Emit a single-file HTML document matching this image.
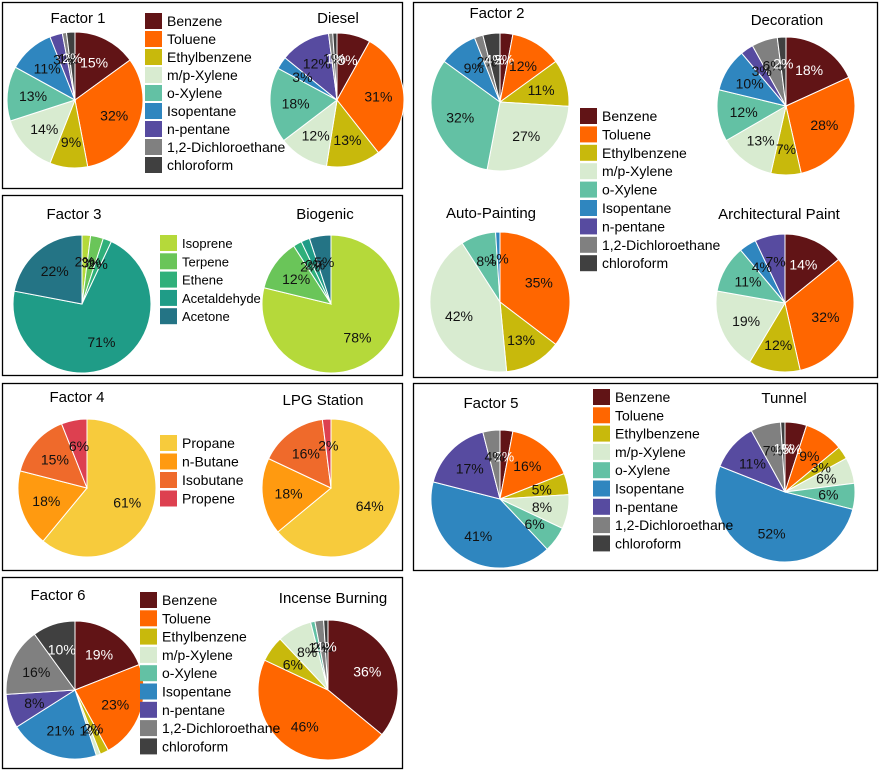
<!DOCTYPE html>
<html><head><meta charset="utf-8"><style>
body{margin:0;background:#fff;width:879px;height:770px;overflow:hidden}
svg{display:block;font-family:"Liberation Sans",Arial,sans-serif}
</style></head><body>
<svg id="c" width="879" height="770"></svg>
<script>
const vocCategories=["Benzene","Toluene","Ethylbenzene","m/p-Xylene","o-Xylene","Isopentane","n-pentane","1,2-Dichloroethane","chloroform"];
const bioCategories=["Isoprene","Terpene","Ethene","Acetaldehyde","Acetone"];
const lpgCategories=["Propane","n-Butane","Isobutane","Propene"];
const factor1Values=[15,32,9,14,13,11,3,1,2];
const dieselValues=[8,31,13,12,18,3,12,1,1];
const factor2Values=[3,12,11,27,32,9,0,2,4];
const decorationValues=[18,28,7,13,12,10,3,6,2];
const autoPaintingValues=[0,35,13,42,8,1,0,0,0];
const archPaintValues=[14,32,12,19,11,4,7,0,0];
const factor3Values=[2,3,2,71,22];
const biogenicValues=[78,12,2,2,5];
const factor4Values=[61,18,15,6];
const lpgValues=[64,18,16,2];
const factor5Values=[3,16,5,8,6,41,17,4,0];
const tunnelValues=[5,9,3,6,6,52,11,7,1];
const factor6Values=[19,23,2,1,0,21,8,16,10];
const incenseValues=[36,46,6,8,1,0,0,2,1];

const vocColors=["#611416","#ff6600","#c8b90c","#d8ebd0","#63c1a4","#2f86bf","#574ba0","#808080","#404040"];
const bioColors=["#b5d93a","#6ac559","#2fb07a","#1f9c87","#247485"];
const lpgColors=["#f7cb3c","#ff9a10","#ef6a2b","#dd4050"];
const darkText=["#611416","#404040"];
const NS="http://www.w3.org/2000/svg";
const svg=document.getElementById("c");
function el(tag,attrs,parent){const e=document.createElementNS(NS,tag);for(const k in attrs)e.setAttribute(k,attrs[k]);(parent||svg).appendChild(e);return e;}
function slug(s){return s.toLowerCase().replace(/[^a-z0-9]+/g,"-").replace(/^-|-$/g,"");}

function panel(x,y,w,h,name){
  const r=el("rect",{x:x+0.5,y:y+0.5,width:w,height:h,fill:"none",stroke:"#000","stroke-width":1.3});
  
  
}
function title(x,y,t){
  const e=el("text",{x:x,y:y,"text-anchor":"middle","font-size":15,fill:"#000"});e.textContent=t;
  
  
}
function pie(cx,cy,r,values,colors,cats,name){
  const g=el("g",{});
  
  
  const tot=values.reduce((a,b)=>a+b,0);
  let a0=0;
  values.forEach((v,i)=>{
    if(v<=0)return;
    const a1=a0+v/tot*2*Math.PI;
    const p=(a)=>[cx+r*Math.sin(a),cy-r*Math.cos(a)];
    const [x0,y0]=p(a0),[x1,y1]=p(a1);
    const large=(a1-a0)>Math.PI?1:0;
    const path=el("path",{d:`M${cx},${cy}L${x0},${y0}A${r},${r} 0 ${large} 1 ${x1},${y1}Z`,fill:colors[i],stroke:"#fff","stroke-width":1},g);
    
    
    a0=a1;
  });
  a0=0;
  values.forEach((v,i)=>{
    const a1=a0+v/tot*2*Math.PI;
    if(v>0){
      const m=(a0+a1)/2, lr=r*0.62;
      const t=el("text",{x:cx+lr*Math.sin(m),y:cy-lr*Math.cos(m)+5,"text-anchor":"middle","font-size":14,fill:darkText.includes(colors[i])?"#fff":"#111"},g);
      t.textContent=v+"%";
      
      
    }
    a0=a1;
  });
}
function legend(x,y,dy,cats,colors,name,fs){
  cats.forEach((c,i)=>{
    const s=el("rect",{x:x,y:y+i*dy,width:17,height:16,fill:colors[i]});
    
    
    const t=el("text",{x:x+22,y:y+i*dy+13,"font-size":fs||14,fill:"#000"});t.textContent=c;
    
    
  });
}

panel(2,2,400,186,"factor1");
title(78,23,"Factor 1");title(338,23,"Diesel");
pie(75,100,68,factor1Values,vocColors,vocCategories,"factor1");
pie(337,100,67,dieselValues,vocColors,vocCategories,"diesel");
legend(145,13,18,vocCategories,vocColors,"factor1");

panel(413,2,464,375,"factor2");
title(497,18,"Factor 2");title(787,25,"Decoration");
title(491,218,"Auto-Painting");title(779,219,"Architectural Paint");
pie(500,102,69,factor2Values,vocColors,vocCategories,"factor2");
pie(786,106,69,decorationValues,vocColors,vocCategories,"decoration");
pie(500,302,70,autoPaintingValues,vocColors,vocCategories,"auto-painting");
pie(785,303,69,archPaintValues,vocColors,vocCategories,"architectural-paint");
legend(580,108,18.4,vocCategories,vocColors,"factor2");

panel(2,195,400,180,"factor3");
title(74,219,"Factor 3");title(325,219,"Biogenic");
pie(82,304,69,factor3Values,bioColors,bioCategories,"factor3");
pie(331,304,69,biogenicValues,bioColors,bioCategories,"biogenic");
legend(160,235,18.3,bioCategories,bioColors,"factor3",13);

panel(2,383,400,187,"factor4");
title(77,402,"Factor 4");title(323,405,"LPG Station");
pie(87,488,69,factor4Values,lpgColors,lpgCategories,"factor4");
pie(331,488,69,lpgValues,lpgColors,lpgCategories,"lpg-station");
legend(160,435,18.5,lpgCategories,lpgColors,"factor4");

panel(413,383,464,187,"factor5");
title(491,408,"Factor 5");title(784,403,"Tunnel");
pie(500,499,69,factor5Values,vocColors,vocCategories,"factor5");
pie(785,492,70,tunnelValues,vocColors,vocCategories,"tunnel");
legend(593,389,18.3,vocCategories,vocColors,"factor5");

panel(2,577,400,191,"factor6");
title(58,600,"Factor 6");title(333,603,"Incense Burning");
pie(75,690,69,factor6Values,vocColors,vocCategories,"factor6");
pie(328,690,70,incenseValues,vocColors,vocCategories,"incense-burning");
legend(140,592,18.3,vocCategories,vocColors,"factor6");
</script>
</body></html>
